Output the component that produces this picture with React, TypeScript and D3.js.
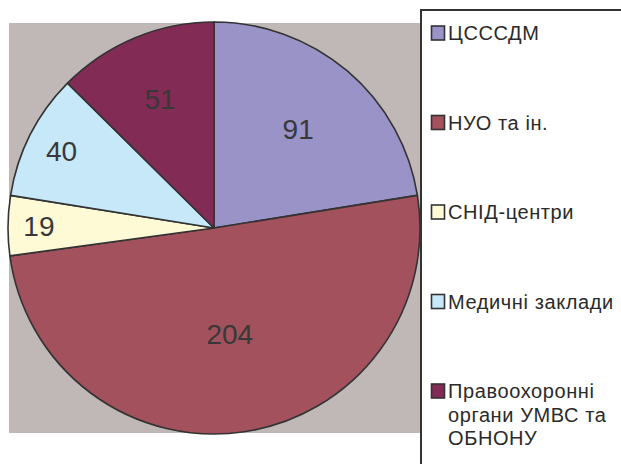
import React from "react";
import * as d3 from "d3";

const categories = ["ЦСССДМ", "НУО та ін.", "СНІД-центри", "Медичні заклади", "Правоохоронні органи УМВС та ОБНОНУ"];
const legendLines = [["ЦСССДМ"], ["НУО та ін."], ["СНІД-центри"], ["Медичні заклади"], ["Правоохоронні", "органи УМВС та", "ОБНОНУ"]];
const values = [91, 204, 19, 40, 51];
const colors = ["#9A93C7", "#A3515D", "#FFFAD6", "#C6E8F8", "#822B55"];
const labelRadiusFrac = [0.63, 0.52, 0.85, 0.83, 0.68];

export default function App() {
  const W = 621, H = 464;
  const cx = 214, cy = 228, R = 206;
  const pie = d3.pie<number>().sort(null).value((d) => d);
  const arcs = pie(values);
  const arc = d3.arc<d3.PieArcDatum<number>>().innerRadius(0).outerRadius(R);
  const legendX = 421, legendTop = 10;
  const itemY = d3.scaleLinear().domain([0, categories.length - 1]).range([33, 391]);

  return (
    <div style={{ position: "absolute", left: 0, top: 0 }}>
      <svg width={W} height={H} style={{ display: "block" }} fontFamily="'Liberation Sans', Arial, sans-serif">
        <rect x={0} y={0} width={W} height={H} fill="#ffffff" />
        <rect x={9} y={23} width={412} height={410} fill="#C0B8B6" />
        <g transform={`translate(${cx},${cy})`}>
          {arcs.map((a, i) => (
            <path key={i} d={arc(a) || ""} fill={colors[i]} stroke="#333333" strokeWidth={1.6} strokeLinejoin="round" />
          ))}
          {arcs.map((a, i) => {
            const r = R * labelRadiusFrac[i];
            const [lx, ly] = d3.arc<d3.PieArcDatum<number>>().innerRadius(r).outerRadius(r).centroid(a);
            return (
              <text key={i} x={lx} y={ly} dy="0.36em" textAnchor="middle" fontSize={28} fill="#383838">
                {values[i]}
              </text>
            );
          })}
        </g>
        <rect x={legendX} y={legendTop} width={220} height={480} fill="#ffffff" stroke="#333333" strokeWidth={2} />
        {categories.map((c, i) => {
          const y = itemY(i);
          return (
            <g key={c}>
              <rect x={431.5} y={y - 7} width={13} height={14} fill={colors[i]} stroke="#333333" strokeWidth={1.6} />
              {legendLines[i].map((ln, j) => (
                <text key={j} x={448} y={y + j * 23.5} dy="0.36em" fontSize={20} fill="#2a2a2a" letterSpacing={0.6}>
                  {ln}
                </text>
              ))}
            </g>
          );
        })}
      </svg>
    </div>
  );
}
